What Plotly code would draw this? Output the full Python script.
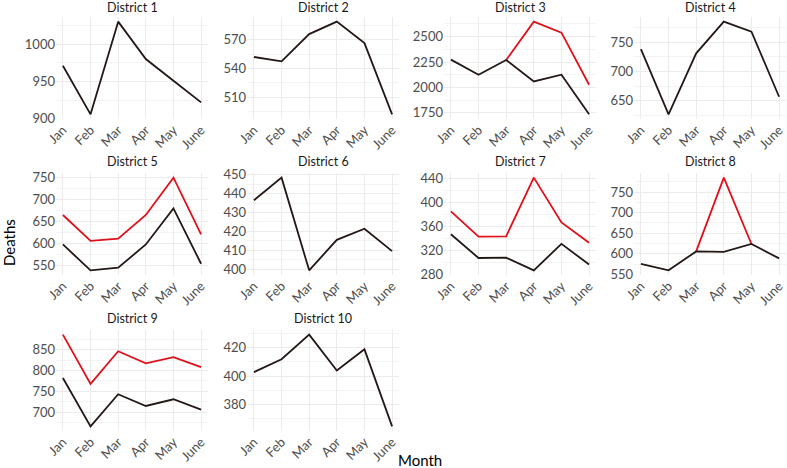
import plotly.graph_objects as go

months = ["Jan", "Feb", "Mar", "Apr", "May", "June"]
districts = ["District 1", "District 2", "District 3", "District 4", "District 5",
             "District 6", "District 7", "District 8", "District 9", "District 10"]

observed = [
    [971, 906, 1030, 980, 951, 922],
    [552, 547.5, 576, 589, 566.5, 492],
    [2273, 2125, 2270, 2059, 2125, 1735],
    [738, 627, 731, 785, 768, 657],
    [598, 539, 545, 598, 680, 554],
    [436.5, 448.5, 399.3, 415.5, 421.4, 409.5],
    [347, 307.5, 308, 287, 331, 296.6],
    [576, 560, 606, 605, 624, 589],
    [782, 666, 743, 715, 731, 706],
    [402.8, 411.9, 429.3, 404, 418.9, 364.5],
]

reported = [
    None,
    None,
    [None, None, 2270, 2647, 2539, 2026],
    None,
    [665, 606, 611, 665, 750, 621],
    None,
    [385, 343, 343.5, 441, 366.5, 333],
    [None, None, 606, 785, 624, None],
    [886, 768, 846, 817, 832, 808],
    None,
]

y_dticks = [50, 30, 250, 50, 50, 10, 40, 50, 50, 20]

W, H = 787, 468
col_px = [(56, 208), (247, 399), (444, 596), (634, 786)]
row_px = [(17, 119), (173, 275), (330, 431)]
title_y = [7.5, 161.5, 318]

BLACK = "#231815"
RED = "#e0101a"
GRID = "#ebebeb"
FONT = "Lato"

fig = go.Figure()
x_idx = list(range(1, len(months) + 1))

for i, name in enumerate(districts):
    r, c = divmod(i, 4)
    ax = "" if i == 0 else str(i + 1)
    xa, ya = "x" + ax, "y" + ax
    if reported[i] is not None:
        fig.add_trace(go.Scatter(x=x_idx, y=reported[i], mode="lines",
                                 line=dict(color=RED, width=1.8),
                                 xaxis=xa, yaxis=ya, showlegend=False,
                                 connectgaps=False))
    fig.add_trace(go.Scatter(x=x_idx, y=observed[i], mode="lines",
                             line=dict(color=BLACK, width=1.8),
                             xaxis=xa, yaxis=ya, showlegend=False))

    vals = [v for v in observed[i]]
    if reported[i] is not None:
        vals += [v for v in reported[i] if v is not None]
    lo, hi = min(vals), max(vals)
    pad = (hi - lo) * 0.05
    d = y_dticks[i]

    x0, x1 = col_px[c]
    y0, y1 = row_px[r]
    fig.layout["xaxis" + ax] = dict(
        domain=[x0 / W, x1 / W], anchor=ya, range=[0.75, 6.25],
        tickmode="array", tickvals=x_idx, ticktext=months, tickangle=-45,
        showgrid=True, gridcolor=GRID, gridwidth=1, zeroline=False,
        showline=False, ticks="", automargin=False,
        tickfont=dict(family=FONT, size=13, color="#4d4d4d"),
    )
    fig.layout["yaxis" + ax] = dict(
        domain=[1 - y1 / H, 1 - y0 / H], anchor=xa, range=[lo - pad, hi + pad],
        tickmode="linear", tick0=0, dtick=d,
        minor=dict(tick0=0, dtick=d / 2, showgrid=True, gridcolor="#f3f3f3", gridwidth=0.6),
        showgrid=True, gridcolor=GRID, gridwidth=1, zeroline=False,
        showline=False, ticks="", automargin=False,
        tickfont=dict(family=FONT, size=13, color="#4d4d4d"),
    )
    fig.add_annotation(text=name, x=(x0 + x1) / 2 / W, y=1 - title_y[r] / H,
                       xref="paper", yref="paper", showarrow=False,
                       xanchor="center", yanchor="middle",
                       font=dict(family=FONT, size=12.5, color="#1a1a1a"))

fig.add_annotation(text="Deaths", x=9 / W, y=1 - 243 / H, xref="paper", yref="paper",
                   showarrow=False, textangle=-90, xanchor="center", yanchor="middle",
                   font=dict(family=FONT, size=15, color="#000000"))
fig.add_annotation(text="Month", x=420 / W, y=1 - 460 / H, xref="paper", yref="paper",
                   showarrow=False, xanchor="center", yanchor="middle",
                   font=dict(family=FONT, size=15, color="#000000"))

fig.update_layout(width=W, height=H, margin=dict(l=0, r=0, t=0, b=0, autoexpand=False),
                  paper_bgcolor="white", plot_bgcolor="white",
                  font=dict(family=FONT))

fig.write_html("out.html", config={"displayModeBar": False},
               post_script="document.body.style.margin='0px';document.body.style.overflow='hidden';")
